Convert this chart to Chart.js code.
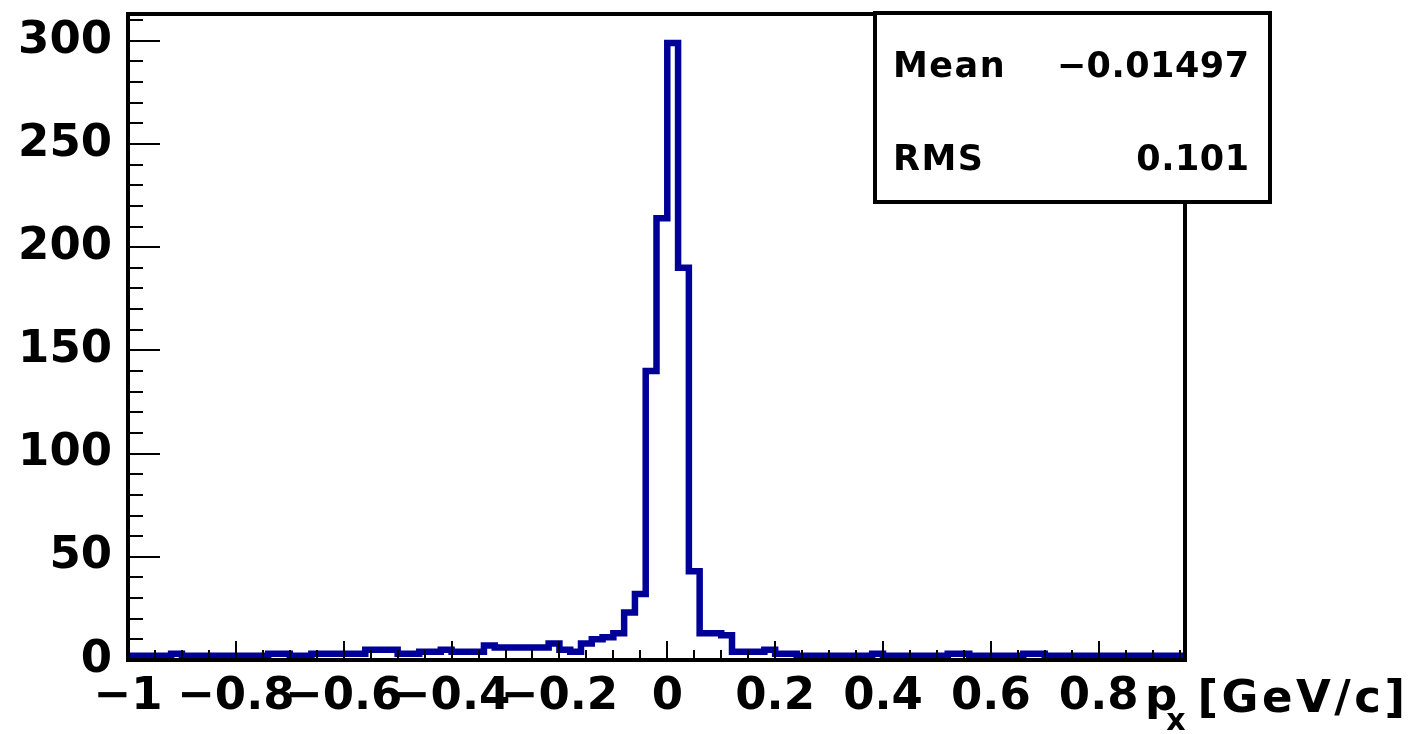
<!DOCTYPE html>
<html>
<head>
<meta charset="utf-8">
<script src="https://cdn.jsdelivr.net/npm/chart.js@4.4.1/dist/chart.umd.min.js"></script>
<style>
  html, body { margin: 0; padding: 0; background: #ffffff; }
  #wrap { position: relative; width: 1417px; height: 734px; }
</style>
</head>
<body>
<div id="wrap"><canvas id="c" width="1417" height="734"></canvas></div>
<script>
// ---- histogram definition ----
const xMin = -1.0;
const xMax = 0.96;
const binWidth = 0.02;
// counts per bin (bin 0 starts at xMin)
const counts = [
  2, 2, 2, 2, 3, 2, 2, 2, 2, 2,
  2, 2, 2, 3, 3, 2, 2, 3, 3, 3,
  3, 3, 5, 5, 5, 3, 3, 4, 4, 5,
  4, 4, 4, 7, 6, 6, 6, 6, 6, 8,
  5, 4, 8, 10, 11, 13, 23, 32, 140, 214,
  299, 190, 43, 13, 13, 12, 4, 4, 4, 5,
  3, 3, 2, 2, 2, 2, 2, 2, 2, 3,
  2, 2, 2, 2, 2, 2, 3, 3, 2, 2,
  2, 2, 2, 3, 3, 2, 2, 2, 2, 2,
  2, 2, 2, 2, 2, 2, 2, 2
];
// axis ticks
const xMajorStep = 0.2;
const xMinorStep = 0.05;
const yMax = 313;
const yMajorStep = 50;
const yMinorStep = 10;
// stats box
const statsNames = ['Mean', 'RMS'];
const statsValues = ['\u22120.01497', '0.101'];
// axis title pieces
const axisTitleMain = 'p';
const axisTitleSub = 'x';
const axisTitleUnit = '[GeV/c]';

const lineColor = '#000099';
const fontFamily = '"DejaVu Sans", "Liberation Sans", Arial, sans-serif';

// build step points (left bin edges + final right edge)
const points = counts.map((v, i) => ({ x: xMin + i * binWidth, y: v }));
points.push({ x: xMin + counts.length * binWidth, y: counts[counts.length - 1] });

function fmtTick(v) {
  const r = Math.round(v * 10) / 10;
  if (Math.abs(r) < 1e-9) return '0';
  const s = String(Math.abs(r));
  return (r < 0 ? '\u2212' : '') + s;
}

function spacedText(ctx, text, x, y, spacing, align) {
  let total = 0;
  const widths = [...text].map(ch => ctx.measureText(ch).width);
  widths.forEach(w => total += w);
  total += spacing * (widths.length - 1);
  let cx = align === 'right' ? x - total : x;
  ctx.textAlign = 'left';
  [...text].forEach((ch, i) => {
    ctx.fillText(ch, cx, y);
    cx += widths[i] + spacing;
  });
  return total;
}

const framePlugin = {
  id: 'rootFrame',
  afterDraw(chart) {
    const { ctx, chartArea: a, scales } = chart;
    const xs = scales.x, ys = scales.y;
    ctx.save();
    ctx.strokeStyle = '#000';
    ctx.lineWidth = 2;
    // x ticks (inside, upwards)
    const nX = Math.round((xMax - xMin) / xMinorStep);
    for (let k = 0; k <= nX; k++) {
      const v = xMin + k * xMinorStep;
      if (v > xMax + 1e-9) break;
      const isMajor = Math.abs(v / xMajorStep - Math.round(v / xMajorStep)) < 1e-6;
      const px = Math.round(xs.getPixelForValue(v));
      const len = isMajor ? 19 : 10;
      ctx.beginPath();
      ctx.moveTo(px, a.bottom);
      ctx.lineTo(px, a.bottom - len);
      ctx.stroke();
    }
    // y ticks (inside, rightwards)
    for (let v = 0; v <= yMax; v += yMinorStep) {
      const isMajor = v % yMajorStep === 0;
      const py = Math.round(ys.getPixelForValue(v));
      const len = isMajor ? 32 : 15;
      ctx.beginPath();
      ctx.moveTo(a.left, py);
      ctx.lineTo(a.left + len, py);
      ctx.stroke();
    }
    // frame
    ctx.lineWidth = 4;
    ctx.strokeRect(a.left, a.top, a.right - a.left, a.bottom - a.top);

    // stats box
    const bx = 875, by = 13, bw = 395, bh = 189;
    ctx.fillStyle = '#fff';
    ctx.fillRect(bx, by, bw, bh);
    ctx.lineWidth = 4;
    ctx.strokeRect(bx, by, bw, bh);
    ctx.fillStyle = '#000';
    ctx.font = 'bold 35px ' + fontFamily;
    ctx.textBaseline = 'alphabetic';
    const rowsY = [77, 170];
    statsNames.forEach((n, i) => {
      spacedText(ctx, n, 893, rowsY[i], 1.5, 'left');
      spacedText(ctx, statsValues[i], 1249, rowsY[i], 0.5, 'right');
    });

    // axis title p_x[GeV/c]
    ctx.font = 'bold 45px ' + fontFamily;
    ctx.textAlign = 'left';
    ctx.fillText(axisTitleMain, 1145, 710);
    const pW = ctx.measureText(axisTitleMain).width;
    ctx.font = 'bold 30px ' + fontFamily;
    ctx.fillText(axisTitleSub, 1145 + pW - 11, 730);
    ctx.font = 'bold 45px ' + fontFamily;
    spacedText(ctx, axisTitleUnit, 1405, 712, 3.5, 'right');
    ctx.restore();
  }
};

new Chart(document.getElementById('c'), {
  type: 'line',
  data: {
    datasets: [{
      data: points,
      stepped: true,
      borderColor: lineColor,
      borderWidth: 6.5,
      pointRadius: 0,
      fill: false,
      borderJoinStyle: 'miter',
      borderCapStyle: 'butt',
      tension: 0
    }]
  },
  options: {
    responsive: false,
    animation: false,
    devicePixelRatio: 1,
    layout: { padding: { top: 14, right: 232, left: 0, bottom: 0 } },
    plugins: { legend: { display: false }, tooltip: { enabled: false }, title: { display: false } },
    scales: {
      x: {
        type: 'linear',
        min: xMin,
        max: xMax,
        grid: { display: false, drawTicks: false },
        border: { display: false },
        ticks: {
          stepSize: xMajorStep,
          includeBounds: false,
          autoSkip: false,
          maxRotation: 0,
          padding: 10,
          color: '#000',
          font: { family: fontFamily, size: 45, weight: 'bold' },
          callback: (v) => fmtTick(v)
        },
        afterFit: (s) => { s.height = 74; s.paddingLeft = 0; s.paddingRight = 0; }
      },
      y: {
        type: 'linear',
        min: 0,
        max: yMax,
        grid: { display: false, drawTicks: false },
        border: { display: false },
        ticks: {
          stepSize: yMajorStep,
          includeBounds: false,
          padding: 16,
          color: '#000',
          font: { family: fontFamily, size: 45, weight: 'bold' },
          callback: (v) => String(v)
        },
        afterFit: (s) => { s.width = 128; s.paddingTop = 0; s.paddingBottom = 0; }
      }
    }
  },
  plugins: [framePlugin]
});
</script>
</body>
</html>
